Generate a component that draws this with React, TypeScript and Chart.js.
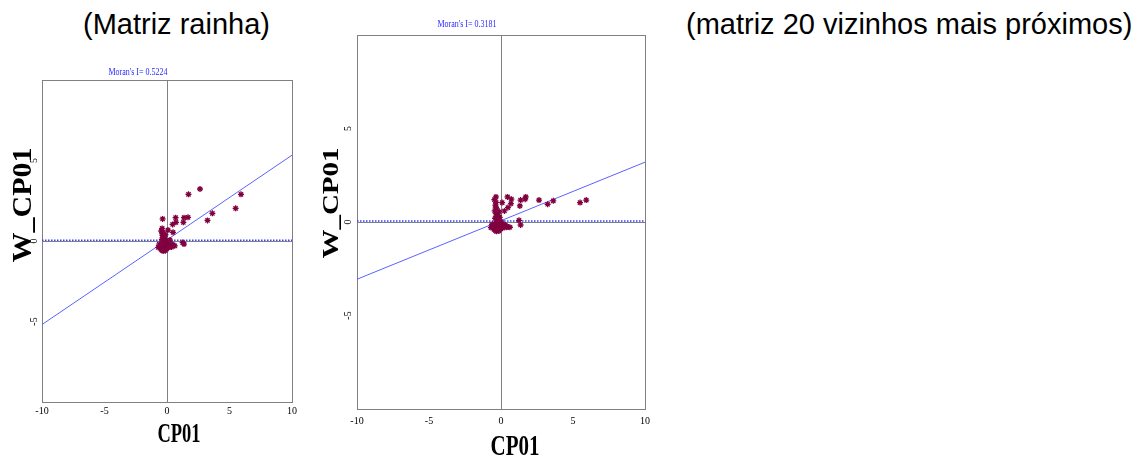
import React, { useEffect, useRef } from "react";
import { Chart, registerables } from "chart.js";

Chart.register(...registerables);

// CP01 (standardised variable) – shared by both panels
const cp01 = [
  5.92, 5.49, 3.63, 3.24, 2.64, 1.72, 1.68, 1.36, 1.31, 1.25, 1.36, 0.72, 0.69, 0.45, -0.35, 0.08, 0.48, 0.24, 0.5, 0.42, 0.62,
  -0.52, -0.48, -0.45, -0.43, -0.41, -0.4, -0.38, -0.36, -0.35, -0.33, -0.31, -0.3, -0.28, -0.27, -0.25, -0.24, -0.22, -0.2,
  -0.18, -0.17, -0.15, -0.13, -0.12, -0.1, -0.08, -0.06, -0.05, -0.03, 0.0, 0.02, 0.05, 0.08, 0.11, 0.15, 0.19, 0.24, 0.3,
  0.36, -0.46, -0.39, -0.34, -0.29, -0.23, -0.19, -0.14, -0.09, -0.04, 0.03, -0.44, -0.37, -0.26, -0.16, -0.7, -0.62,
];

// W_CP01 with the queen contiguity matrix
const wQueen = [
  2.9, 2.03, 1.72, 1.28, 3.23, 2.9, 1.47, 1.45, 1.16, -0.1, -0.19, 1.16, 1.45, 1.03, 1.37, 0.68, 0.54, 0.06, -0.25, -0.22, -0.3,
  -0.35, -0.52, -0.2, -0.41, 0.1, -0.58, -0.27, 0.35, -0.45, -0.12, -0.62, -0.33, 0.22, -0.48, -0.05, -0.38, -0.55, -0.18,
  0.05, -0.3, -0.44, -0.25, 0.4, -0.36, -0.15, -0.5, -0.22, -0.08, -0.4, -0.28, -0.32, -0.19, -0.42, -0.26, -0.35, -0.3, -0.22,
  -0.38, 0.62, 0.78, 0.55, 0.28, -0.1, 0.15, -0.6, 0.0, -0.45, -0.12, -0.3, 0.45, -0.52, -0.02, -0.4, -0.2,
];

// W_CP01 with the 20 nearest neighbours matrix
const wKnn = [
  1.17, 1.04, 1.13, 0.95, 1.17, 1.34, 1.22, 1.17, 0.86, 0.09, -0.16, 1.22, 0.98, 1.34, 1.34, 1.04, 0.77, 0.59, -0.27, -0.25, -0.28,
  -0.25, -0.4, -0.1, -0.32, 0.2, -0.45, -0.15, 0.45, -0.35, -0.05, -0.5, -0.28, 0.3, -0.38, 0.05, -0.22, -0.42, -0.12,
  0.15, -0.2, -0.3, -0.18, 0.55, -0.26, -0.08, -0.36, -0.14, 0.02, -0.3, -0.2, -0.24, -0.1, -0.33, -0.18, -0.26, -0.22, -0.15,
  -0.28, 1.2, 0.9, 1.05, 0.7, 0.1, 0.35, -0.48, 0.25, -0.34, -0.02, 0.6, 0.8, -0.4, 0.12, -0.3, -0.12,
];

const axisTicks = [-10, -5, 0, 5, 10];
const lineX = [-10, 10];
const queenLineY = [-5.19, 5.33];
const knnLineY = [-3.06, 3.2];
const meanW = 0.05;

const SERIF = '"Liberation Serif", "Times New Roman", serif';

type PanelCfg = {
  left: number; top: number; width: number; height: number;
  plotLeft: number; plotTop: number; plotRight: number; plotBottom: number;
  moran: string; moranX: number; moranY: number;
  xTitleX: number; xTitleY: number; xTitleSize: number; xTitleSqueeze: number;
  yTitleX: number; yTitleY: number; yTitleSize: number; yTitleSqueeze: number;
  xTickPad: number; yTickPad: number;
  w: number[]; lineY: number[];
};

const panels: PanelCfg[] = [
  {
    left: 0, top: 50, width: 330, height: 409,
    plotLeft: 42, plotTop: 30, plotRight: 292, plotBottom: 352,
    moran: "Moran's I= 0.5224", moranX: 138, moranY: 22,
    xTitleX: 179, xTitleY: 392, xTitleSize: 28, xTitleSqueeze: 0.66,
    yTitleX: 31, yTitleY: 155, yTitleSize: 30, yTitleSqueeze: 0.88,
    xTickPad: 3, yTickPad: 3,
    w: wQueen, lineY: queenLineY,
  },
  {
    left: 320, top: 0, width: 340, height: 459,
    plotLeft: 37, plotTop: 35, plotRight: 325, plotBottom: 409,
    moran: "Moran's I= 0.3181", moranX: 147, moranY: 24,
    xTitleX: 195, xTitleY: 455, xTitleSize: 30, xTitleSqueeze: 0.7,
    yTitleX: 18, yTitleY: 203, yTitleSize: 29, yTitleSqueeze: 0.8,
    xTickPad: 6, yTickPad: 4,
    w: wKnn, lineY: knnLineY,
  },
];

function Panel({ cfg }: { cfg: PanelCfg }) {
  const ref = useRef<HTMLCanvasElement | null>(null);
  useEffect(() => {
    if (!ref.current) return;
    const frame = {
      id: "frame",
      beforeDatasetsDraw(chart: any) {
        const { ctx, chartArea: a } = chart;
        ctx.save();
        ctx.strokeStyle = "#808080";
        ctx.lineWidth = 1;
        ctx.strokeRect(Math.round(a.left) + 0.5, Math.round(a.top) + 0.5, Math.round(a.right - a.left), Math.round(a.bottom - a.top));
        ctx.restore();
      },
      afterDraw(chart: any) {
        const ctx = chart.ctx;
        ctx.save();
        ctx.translate(cfg.moranX, cfg.moranY);
        ctx.scale(0.8, 1);
        ctx.font = `10px ${SERIF}`;
        ctx.fillStyle = "#2a2aff";
        ctx.textAlign = "center";
        ctx.textBaseline = "middle";
        ctx.fillText(cfg.moran, 0, 0);
        ctx.restore();
        ctx.save();
        ctx.translate(cfg.xTitleX, cfg.xTitleY);
        ctx.scale(cfg.xTitleSqueeze, 1);
        ctx.font = `bold ${cfg.xTitleSize}px ${SERIF}`;
        ctx.fillStyle = "#000";
        ctx.textAlign = "center";
        ctx.textBaseline = "alphabetic";
        ctx.fillText("CP01", 0, 0);
        ctx.restore();
        ctx.save();
        ctx.translate(cfg.yTitleX, cfg.yTitleY);
        ctx.rotate(-Math.PI / 2);
        ctx.scale(1, cfg.yTitleSqueeze);
        ctx.font = `bold ${cfg.yTitleSize}px ${SERIF}`;
        ctx.fillStyle = "#000";
        ctx.textAlign = "center";
        ctx.textBaseline = "alphabetic";
        ctx.fillText("W_CP01", 0, 0);
        ctx.restore();
      },
    };
    const zeroGrid = (c: any) => (c.tick && c.tick.value === 0 ? "#808080" : "rgba(0,0,0,0)");
    const chart = new Chart(ref.current, {
      type: "scatter",
      data: {
        datasets: [
          {
            data: cp01.map((x, i) => ({ x, y: cfg.w[i] })),
            pointStyle: "star",
            pointRadius: 3,
            borderColor: "#800040",
            backgroundColor: "#800040",
            borderWidth: 1.3,
            showLine: false,
          },
          {
            data: lineX.map((x, i) => ({ x, y: cfg.lineY[i] })),
            showLine: true,
            pointRadius: 0,
            borderColor: "#5b63ff",
            borderWidth: 1,
          },
          {
            data: lineX.map((x) => ({ x, y: meanW })),
            showLine: true,
            pointRadius: 0,
            borderColor: "#3343ff",
            borderWidth: 1.6,
            borderDash: [1.5, 1.5],
          },
        ],
      },
      options: {
        animation: false,
        responsive: false,
        events: [],
        layout: { padding: { left: 0, top: cfg.plotTop, right: cfg.width - cfg.plotRight, bottom: 0 } },
        plugins: { legend: { display: false }, tooltip: { enabled: false } },
        scales: {
          x: {
            type: "linear",
            min: -10,
            max: 10,
            afterBuildTicks: (s: any) => { s.ticks = axisTicks.map((v) => ({ value: v })); },
            afterFit: (s: any) => { s.height = cfg.height - cfg.plotBottom; },
            border: { display: false },
            grid: { drawTicks: false, color: zeroGrid, lineWidth: 1 },
            ticks: { padding: cfg.xTickPad, maxRotation: 0, autoSkip: false, color: "#000", font: { family: SERIF, size: 10 } },
          },
          y: {
            type: "linear",
            min: -10,
            max: 10,
            afterBuildTicks: (s: any) => { s.ticks = axisTicks.map((v) => ({ value: v })); },
            afterFit: (s: any) => { s.width = cfg.plotLeft; },
            border: { display: false },
            grid: { drawTicks: false, color: zeroGrid, lineWidth: 1 },
            ticks: {
              padding: cfg.yTickPad,
              minRotation: 90,
              maxRotation: 90,
              crossAlign: "center",
              autoSkip: false,
              color: "#000",
              font: { family: SERIF, size: 10 },
              callback: (v: any) => (Math.abs(Number(v)) === 10 ? "" : String(v)),
            },
          },
        },
      },
      plugins: [frame],
    } as any);
    return () => chart.destroy();
  }, [cfg]);
  return (
    <canvas
      ref={ref}
      width={cfg.width}
      height={cfg.height}
      style={{ position: "absolute", left: cfg.left, top: cfg.top, width: cfg.width, height: cfg.height }}
    />
  );
}

const headerStyle: React.CSSProperties = {
  position: "absolute",
  top: 10,
  fontFamily: '"Liberation Sans", Arial, sans-serif',
  fontSize: 29,
  lineHeight: "29px",
  color: "#000",
  whiteSpace: "nowrap",
};

export default function App() {
  return (
    <div style={{ position: "absolute", left: 0, top: 0, width: 1141, height: 459, background: "#fff" }}>
      <Panel cfg={panels[0]} />
      <Panel cfg={panels[1]} />
      <div style={{ ...headerStyle, left: 83 }}>(Matriz rainha)</div>
      <div style={{ ...headerStyle, left: 686 }}>(matriz 20 vizinhos mais próximos)</div>
    </div>
  );
}
